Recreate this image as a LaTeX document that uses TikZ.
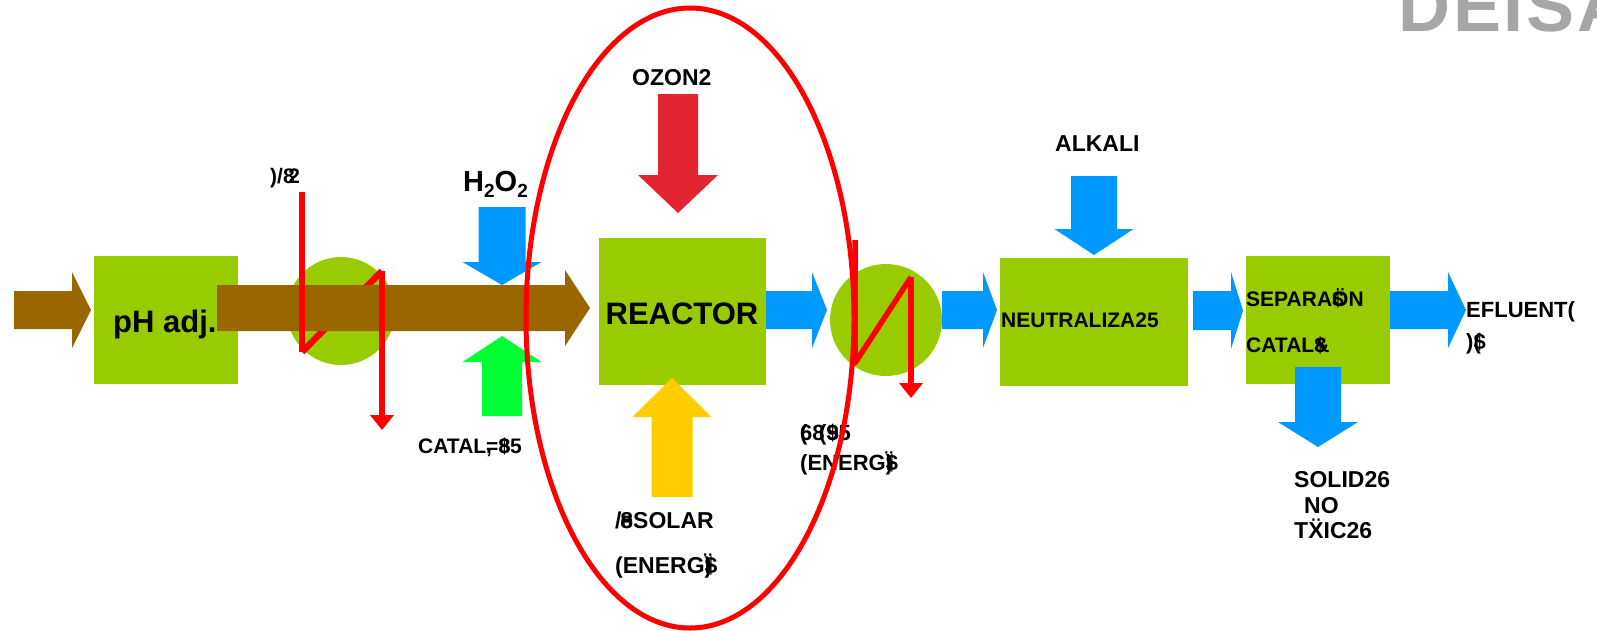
\documentclass[tikz,border=0pt]{standalone}
\usepackage{fontspec}
\setmainfont{Liberation Sans}
\usetikzlibrary{arrows.meta}
\definecolor{boxg}{HTML}{99CC00}
\definecolor{flowbrown}{HTML}{996600}
\definecolor{flowblue}{HTML}{0099FF}
\definecolor{ozred}{HTML}{E32431}
\definecolor{solyel}{HTML}{FFCC00}
\definecolor{catgreen}{HTML}{00FF33}
\definecolor{hotred}{HTML}{FF0000}
\definecolor{logogray}{HTML}{A6A6A6}
% right-pointing block arrow: colour, x start, x head base, x tip, y centre, shaft half, head half
\newcommand\RArrow[7]{\fill[#1] (#2,{#5-#6}) -- (#3,{#5-#6}) -- (#3,{#5-#7}) -- (#4,#5) -- (#3,{#5+#7}) -- (#3,{#5+#6}) -- (#2,{#5+#6}) -- cycle;}
% vertical block arrow: colour, x centre, y start, y head base, y tip, shaft half, head half
\newcommand\VArrow[7]{\fill[#1] ({#2-#6},#3) -- ({#2+#6},#3) -- ({#2+#6},#4) -- ({#2+#7},#4) -- (#2,#5) -- ({#2-#7},#4) -- ({#2-#6},#4) -- cycle;}
\tikzset{
  lbl/.style={anchor=base west, inner sep=0pt, font=\bfseries\fontsize{#1}{#1}\selectfont},
  procbox/.style={rectangle, fill=boxg, inner sep=0pt},
  hxcircle/.style={circle, fill=boxg, inner sep=0pt},
  hotline/.style={hotred, line width=6.5pt},
  hottip/.style={-{Triangle[width=23pt,length=15pt]}},
}
\begin{document}
\begin{tikzpicture}[x=1pt,y=-1pt]
\useasboundingbox (0,0) rectangle (1597,630);
\clip (0,0) rectangle (1597,630);
\fill[white] (0,0) rectangle (1597,630);

% logo
\node[anchor=base west, inner sep=0pt, text=logogray, font=\bfseries\fontsize{72}{72}\selectfont\addfontfeatures{LetterSpace=4}] (logo) at (1398,31) {DEISA};

% process boxes and exchangers
\node[procbox, minimum width=144pt, minimum height=128pt] (ph) at (166,320) {};
\node[hxcircle, minimum size=108pt] (c1) at (341,311) {};
\node[procbox, minimum width=167pt, minimum height=147pt] (reactor) at (682.5,311.5) {};
\node[hxcircle, minimum size=112pt] (c2) at (886,320) {};
\node[procbox, minimum width=188pt, minimum height=128pt] (neutr) at (1094,322) {};
\node[procbox, minimum width=144pt, minimum height=128pt] (separ) at (1318,320) {};

% heat exchanger 1
\coordinate (z1a) at (302,192);
\coordinate (z1b) at (302,352);
\coordinate (z1c) at (382,271);
\coordinate (z1d) at (382,430);
\draw[hotline] (z1b) -- (z1c);

% feed arrows
\RArrow{flowbrown}{14}{72}{91}{310}{19}{38}
\RArrow{flowbrown}{217}{565}{590}{308}{23}{38}

\draw[hotline] (z1a) -- (z1b);
\draw[hotline, hottip] (z1c) -- (z1d);

% reagent arrows
\VArrow{flowblue}{502}{207}{262}{285}{23.5}{39.5}
\VArrow{catgreen}{502}{416}{362}{336}{20}{39.5}
\VArrow{ozred}{678}{94}{175}{213}{20}{40}
\VArrow{solyel}{672}{497}{417}{378}{20.5}{39.5}
\VArrow{flowblue}{1094}{176}{229}{255}{23}{39.5}
\VArrow{flowblue}{1318}{367}{422}{447}{23}{40}

% flow arrows
\RArrow{flowblue}{766}{812}{827}{310}{19}{38}
\RArrow{flowblue}{942}{983}{997}{310}{19}{38}
\RArrow{flowblue}{1193}{1231}{1243}{310.5}{19.5}{38.5}
\RArrow{flowblue}{1390}{1448}{1466}{310}{19}{38}

% heat exchanger 2
\coordinate (z2a) at (855,240);
\coordinate (z2b) at (855,363);
\coordinate (z2c) at (911,277);
\coordinate (z2d) at (911,398);
\draw[hotline, line width=5.5pt, line join=round] (z2a) -- (z2b) -- (z2c);
\draw[hotline, line width=5.5pt, hottip] (z2c) -- (z2d);

% labels
\node[lbl=31] (phl) at (113,332) {pH adj.};
\node[lbl=21] (flujo) at (270,183) {)/8\kern-0.3em 2};
\node[lbl=29] (h2o2) at (463,191) {H\raisebox{-0.22em}{\fontsize{19}{19}\selectfont 2}O\raisebox{-0.22em}{\fontsize{19}{19}\selectfont 2}};
\node[lbl=21] (catl) at (418,453) {CATAL\rlap{,}=\rlap{\$}85};
\node[lbl=23] (ozl) at (632,85) {OZON2};
\node[anchor=base, inner sep=0pt, font=\bfseries\fontsize{31}{31}\selectfont] (reacl) at (682,324) {REACTOR};
\node[lbl=23] (sol1) at (615,528) {/\kern-0.05em\rlap{e}8SOLAR};
\node[lbl=23] (sol2) at (615,573) {(ENERG\rlap{Ï}\rlap{)}\$};
\node[lbl=22] (ene1) at (800,440) {\rlap{(}68\kern-0.25em(\rlap{\$}95};
\node[lbl=22] (ene2) at (800,470) {(ENERG\rlap{Ï}\rlap{)}\$};
\node[lbl=23] (alk) at (1055,151) {ALKALI};
\node[lbl=21] (neul) at (1001,327) {NEUTRALIZA25};
\node[lbl=21] (sep1) at (1246,306) {SEPARA\rlap{\$}ÖN};
\node[lbl=21] (sep2) at (1246,352) {CATAL\rlap{\$}\&};
\node[lbl=23] (sol3) at (1294,487) {SOLID26};
\node[lbl=23] (sol4) at (1304,513) {NO};
\node[lbl=23] (sol5) at (1294,538) {T\"{X}IC26};
\node[lbl=22] (ef1) at (1466,317) {EFLUENT(};
\node[lbl=22] (ef2) at (1466,349) {)\rlap{(}\$};

% reactor boundary
\draw[hotred, line width=5pt] (690,318) ellipse [x radius=164pt, y radius=310pt];
\end{tikzpicture}
\end{document}
